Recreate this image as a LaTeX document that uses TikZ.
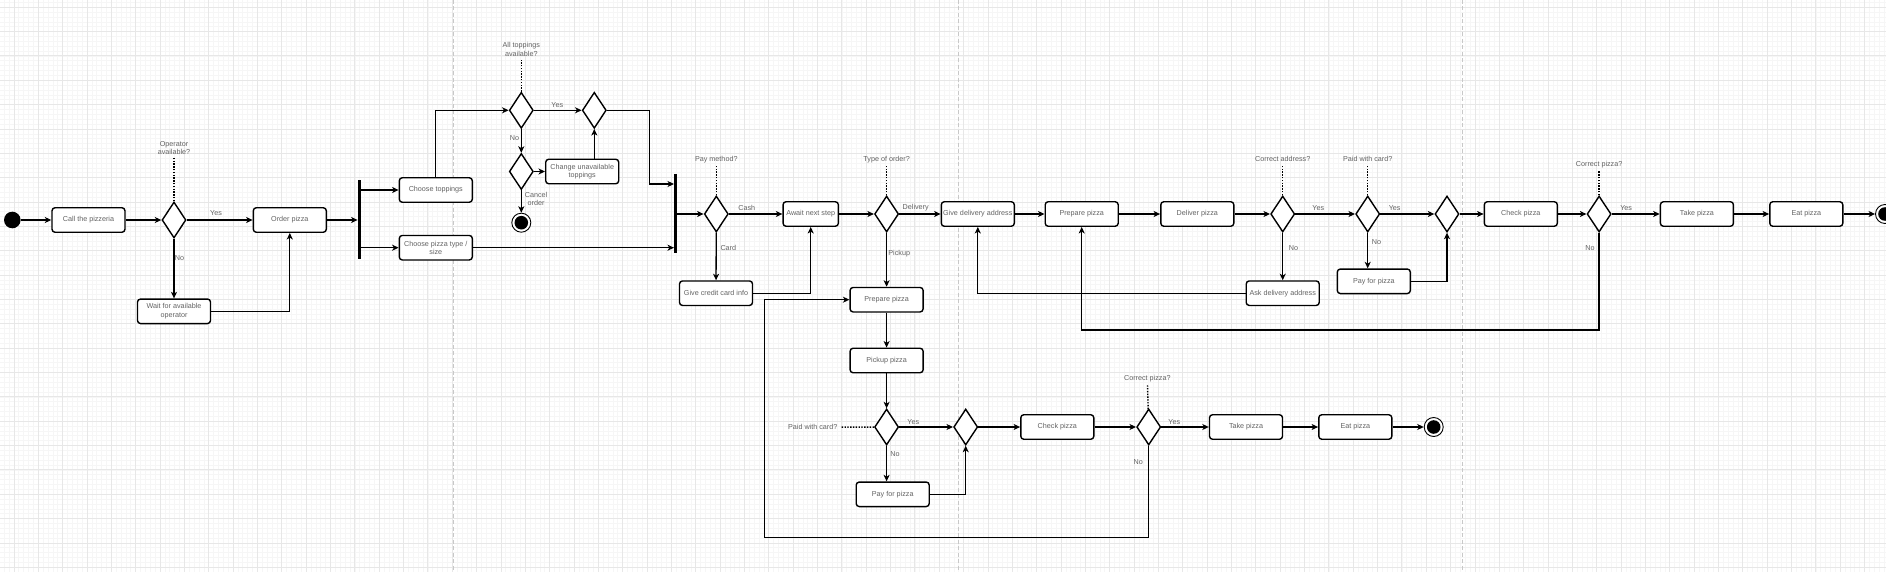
\documentclass[tikz,border=0pt]{standalone}
\usepackage{fontspec}
\setmainfont{Liberation Sans}
\usepackage{xcolor}
\usepackage{tikz}
\usetikzlibrary{arrows.meta, shapes.geometric, calc}

\definecolor{txtgray}{HTML}{636363}
\definecolor{gridmajor}{HTML}{E7E7E7}
\definecolor{gridminor}{HTML}{F6F6F6}
\definecolor{lanegray}{HTML}{C8C8C8}

\begin{document}
\begin{tikzpicture}[x=1pt, y=-1pt,
    every node/.style={font=\fontsize{7.2pt}{8.5pt}\selectfont, text=txtgray},
    activity/.style={draw=black, line width=1.4pt, rounded corners=3pt, fill=white,
      minimum width=73pt, minimum height=24.5pt, inner sep=1pt, align=center},
    decision/.style={diamond, draw=black, line width=1.4pt, fill=white,
      minimum width=24pt, minimum height=36pt, inner sep=0pt},
    bar/.style={fill=black, minimum width=3pt, inner sep=0pt},
    initial/.style={circle, fill=black, minimum size=16.6pt, inner sep=0pt},
    final/.style={circle, draw=black, line width=0.9pt, fill=white, minimum size=19pt, inner sep=0pt,
      path picture={\fill[black] (path picture bounding box.center) circle (6.8pt);}},
    question/.style={align=center, inner sep=0pt},
    elabel/.style={inner sep=0pt},
    flow/.style={draw=black, line width=1.3pt, -{Stealth[length=6.5pt, width=6pt, inset=1.8pt]}},
    qline/.style={draw=black, line width=1.4pt, dash pattern=on 1.4pt off 1.4pt, shorten >=3pt},
    lane/.style={draw=lanegray, line width=1pt, dash pattern=on 4pt off 2.5pt}]
  \useasboundingbox (0,0) rectangle (1886,572);
  \fill[white] (0,0) rectangle (1886,572);
  % Background grid
  \foreach \k in {-2,...,384}
    \draw[gridminor, line width=0.8pt] ({14+4.87*\k},0) -- ({14+4.87*\k},572);
  \foreach \k in {-1,...,115}
    \draw[gridminor, line width=0.8pt] (0,{7.3+4.87*\k}) -- (1886,{7.3+4.87*\k});
  \foreach \k in {0,...,76}
    \draw[gridmajor, line width=1pt] ({14+24.35*\k},0) -- ({14+24.35*\k},572);
  \foreach \k in {0,...,23}
    \draw[gridmajor, line width=1pt] (0,{7.3+24.35*\k}) -- (1886,{7.3+24.35*\k});
  % Lane separators
  \foreach \lx in {453.5, 958.3, 1462}
    \draw[lane] (\lx,0) -- (\lx,572);

  % Calling and ordering
  \node[initial] (start) at (12.3,220) {};
  \node[activity] (call) at (88.5,220) {Call the pizzeria};
  \node[decision] (dop) at (174,220) {};
  \node[question] (qop) at (174,148) {Operator\\available?};
  \node[activity] (order) at (289.8,220) {Order pizza};
  \node[activity] (wait) at (174,311.3) {Wait for available\\operator};
  \node[elabel] (lyes1) at (216,213.3) {Yes};
  \node[elabel] (lno1) at (179.5,258.3) {No};

  % Toppings and size
  \node[bar, minimum height=79.3pt] (fork) at (359.3,219.7) {};
  \node[activity] (toppings) at (435.8,190) {Choose toppings};
  \node[activity] (pizzatype) at (435.8,247.7) {Choose pizza type /\\size};
  \node[decision] (davail) at (521.3,110.3) {};
  \node[question] (qavail) at (521.3,49.5) {All toppings\\available?};
  \node[decision] (dmerge) at (594.3,110.3) {};
  \node[decision] (dchange) at (521.3,171.5) {};
  \node[activity] (change) at (582.2,171.5) {Change unavailable\\toppings};
  \node[final] (cancel) at (521.3,222.7) {};
  \node[elabel] (lyes2) at (557.3,104.7) {Yes};
  \node[elabel] (lno2) at (514.5,137.7) {No};
  \node[question] (lcancel) at (536,199) {Cancel\\order};
  \node[bar, minimum height=78.4pt] (join) at (675.7,213.5) {};
  \coordinate (jturn) at (649.3,184);

  % Payment and order type
  \node[decision] (dpay) at (716.3,214) {};
  \node[question] (qpay) at (716.3,159.3) {Pay method?};
  \node[activity, minimum width=55.3pt] (await) at (810.7,214) {Await next step};
  \node[activity] (credit) at (716,293.2) {Give credit card info};
  \node[decision] (dtype) at (886.6,214) {};
  \node[question] (qtype) at (886.6,159.3) {Type of order?};
  \node[elabel] (lcash) at (746.7,207.7) {Cash};
  \node[elabel] (lcard) at (728.3,247.7) {Card};
  \node[elabel] (ldeliv) at (915.7,207.7) {Delivery};
  \node[elabel] (lpick) at (899.2,253.3) {Pickup};

  % Delivery
  \node[activity] (giveaddr) at (977.8,214) {Give delivery address};
  \node[activity] (prep1) at (1081.7,214) {Prepare pizza};
  \node[activity] (deliver) at (1197.3,214) {Deliver pizza};
  \node[decision] (daddr) at (1282.7,214) {};
  \node[question] (qaddr) at (1282.7,159.3) {Correct address?};
  \node[activity] (askaddr) at (1282.7,293.2) {Ask delivery address};
  \node[decision] (dcard1) at (1367.7,214) {};
  \node[question] (qcard1) at (1367.7,159.3) {Paid with card?};
  \node[activity] (pay1) at (1373.8,281.3) {Pay for pizza};
  \node[decision] (dmerge2) at (1447,214) {};
  \node[activity] (check1) at (1520.8,214) {Check pizza};
  \node[decision] (dpizza1) at (1599.1,214) {};
  \node[question] (qpizza1) at (1599.1,164.3) {Correct pizza?};
  \node[activity] (take1) at (1696.9,214) {Take pizza};
  \node[activity] (eat1) at (1806.3,214) {Eat pizza};
  \node[final] (end1) at (1885,214) {};
  \node[elabel] (lyes3) at (1318.3,207.7) {Yes};
  \node[elabel] (lno3) at (1293.5,247.7) {No};
  \node[elabel] (lyes4) at (1394.7,207.7) {Yes};
  \node[elabel] (lno4) at (1376.5,242.3) {No};
  \node[elabel] (lyes5) at (1626.1,207.7) {Yes};
  \node[elabel] (lno5) at (1590,247.7) {No};
  \coordinate (loopA) at (1081.7,330);

  % Pickup
  \node[activity] (prep2) at (886.6,299.7) {Prepare pizza};
  \node[activity] (pickup) at (886.6,360.5) {Pickup pizza};
  \node[decision] (dcard2) at (886.6,427) {};
  \node[question] (qcard2) at (812.7,427.3) {Paid with card?};
  \node[activity] (pay2) at (892.7,494.3) {Pay for pizza};
  \node[decision] (dmerge3) at (965.7,427) {};
  \node[activity] (check2) at (1057.3,427) {Check pizza};
  \node[decision] (dpizza2) at (1148.7,427) {};
  \node[question] (qpizza2) at (1147.3,378.3) {Correct pizza?};
  \node[activity] (take2) at (1246,427) {Take pizza};
  \node[activity] (eat2) at (1355.3,427) {Eat pizza};
  \node[final] (end2) at (1433.7,427) {};
  \node[elabel] (lyes6) at (913.3,421.7) {Yes};
  \node[elabel] (lno6) at (895,454.3) {No};
  \node[elabel] (lyes7) at (1174.3,421.7) {Yes};
  \node[elabel] (lno7) at (1138.3,461.7) {No};
  \coordinate (loopB) at (764.3,537.3);

  % Connectors: calling and ordering
  \draw[flow] (start) -- (call);
  \draw[flow] (call) -- (dop);
  \draw[qline] (dop) -- (qop);
  \draw[flow] (dop) -- (order);
  \draw[flow] (dop) -- (wait);
  \draw[flow] (wait) -| (order);
  \draw[flow] (order) -- (order -| fork.west);
  % Connectors: toppings and size
  \draw[flow] (fork.east |- toppings) -- (toppings);
  \draw[flow] (fork.east |- pizzatype) -- (pizzatype);
  \draw[flow] (toppings) |- (davail);
  \draw[qline] (davail) -- (qavail);
  \draw[flow] (davail) -- (dmerge);
  \draw[flow] (davail) -- (dchange);
  \draw[flow] (dchange) -- (change);
  \draw[flow] (dchange) -- (cancel);
  \draw[flow] (change.north -| dmerge) -- (dmerge);
  \draw[flow] (dmerge) -| (jturn) -- (jturn -| join.west);
  \draw[flow] (pizzatype) -- (pizzatype -| join.west);
  \draw[flow] (join.east |- dpay) -- (dpay);
  % Connectors: payment and order type
  \draw[qline] (dpay) -- (qpay);
  \draw[flow] (dpay) -- (await);
  \draw[flow] (dpay) -- (credit);
  \draw[flow] (credit) -| (await);
  \draw[flow] (await) -- (dtype);
  \draw[qline] (dtype) -- (qtype);
  \draw[flow] (dtype) -- (giveaddr);
  \draw[flow] (dtype) -- (prep2);
  % Connectors: delivery
  \draw[flow] (giveaddr) -- (prep1);
  \draw[flow] (prep1) -- (deliver);
  \draw[flow] (deliver) -- (daddr);
  \draw[qline] (daddr) -- (qaddr);
  \draw[flow] (daddr) -- (dcard1);
  \draw[flow] (daddr) -- (askaddr);
  \draw[flow] (askaddr) -| (giveaddr);
  \draw[qline] (dcard1) -- (qcard1);
  \draw[flow] (dcard1) -- (dmerge2);
  \draw[flow] (dcard1) -- (dcard1 |- pay1.north);
  \draw[flow] (pay1) -| (dmerge2);
  \draw[flow] (dmerge2) -- (check1);
  \draw[flow] (check1) -- (dpizza1);
  \draw[qline] (dpizza1) -- (qpizza1);
  \draw[flow] (dpizza1) -- (take1);
  \draw[flow] (take1) -- (eat1);
  \draw[flow] (eat1) -- (end1);
  \draw[flow] (dpizza1) |- (loopA) -- (prep1);
  % Connectors: pickup
  \draw[flow] (prep2) -- (pickup);
  \draw[flow] (pickup) -- (dcard2);
  \draw[qline] (dcard2) -- (qcard2);
  \draw[flow] (dcard2) -- (dmerge3);
  \draw[flow] (dcard2) -- (dcard2 |- pay2.north);
  \draw[flow] (pay2) -| (dmerge3);
  \draw[flow] (dmerge3) -- (check2);
  \draw[flow] (check2) -- (dpizza2);
  \draw[qline] (dpizza2) -- (qpizza2);
  \draw[flow] (dpizza2) -- (take2);
  \draw[flow] (take2) -- (eat2);
  \draw[flow] (eat2) -- (end2);
  \draw[flow] (dpizza2) |- (loopB) |- (prep2);
\end{tikzpicture}
\end{document}
